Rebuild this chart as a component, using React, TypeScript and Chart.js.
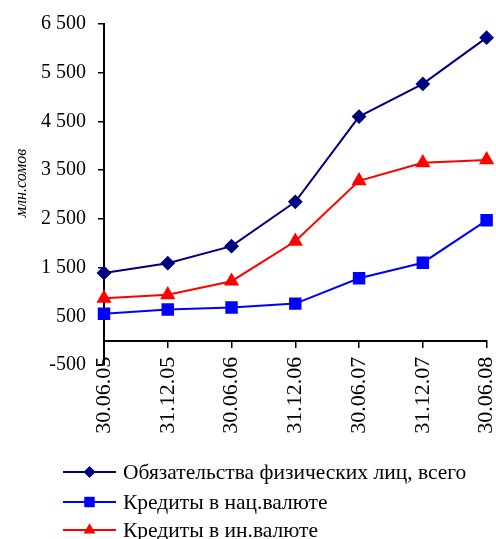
import React, { useEffect, useRef } from "react";
import { Chart, registerables } from "chart.js";

Chart.register(...registerables);

const categories = ["30.06.05", "31.12.05", "30.06.06", "31.12.06", "30.06.07", "31.12.07", "30.06.08"];
const totalLiabilities = [1390, 1590, 1940, 2850, 4600, 5270, 6220];
const nationalCurrencyLoans = [550, 640, 680, 760, 1280, 1600, 2470];
const foreignCurrencyLoans = [870, 940, 1220, 2040, 3280, 3650, 3710];
const seriesNames = [
  "Обязательства физических лиц, всего",
  "Кредиты в нац.валюте",
  "Кредиты в ин.валюте",
];
const yAxisTitle = "млн.сомов";
const yMin = -500;
const yMax = 6500;
const yStep = 1000;

const SERIF = '"Liberation Serif", "Times New Roman", serif';

function fmt(v: number): string {
  const s = String(Math.abs(v)).replace(/\B(?=(\d{3})+(?!\d))/g, " ");
  return v < 0 ? "-" + s : s;
}

const customDecor = {
  id: "customDecor",
  afterDraw(chart: any) {
    const ctx = chart.ctx;
    ctx.save();
    // y axis title
    ctx.font = `italic 16px ${SERIF}`;
    ctx.fillStyle = "#000";
    ctx.textAlign = "center";
    ctx.textBaseline = "middle";
    ctx.translate(22, 183);
    ctx.rotate(-Math.PI / 2);
    ctx.fillText(yAxisTitle, 0, 0);
    ctx.restore();

    // legend
    ctx.save();
    const rows = [472, 502, 530];
    chart.data.datasets.forEach((ds: any, i: number) => {
      const y = rows[i];
      ctx.strokeStyle = ds.borderColor;
      ctx.lineWidth = 2;
      ctx.beginPath();
      ctx.moveTo(63, y);
      ctx.lineTo(116, y);
      ctx.stroke();
      ctx.fillStyle = ds.pointBackgroundColor;
      const r = ds.pointRadius;
      const x = 89.5;
      ctx.beginPath();
      if (ds.pointStyle === "rectRot") {
        ctx.moveTo(x, y - r);
        ctx.lineTo(x + r, y);
        ctx.lineTo(x, y + r);
        ctx.lineTo(x - r, y);
      } else if (ds.pointStyle === "rect") {
        const s = r * Math.SQRT1_2;
        ctx.rect(x - s, y - s, 2 * s, 2 * s);
      } else {
        ctx.moveTo(x, y - r);
        ctx.lineTo(x + r * 0.866, y + r * 0.5);
        ctx.lineTo(x - r * 0.866, y + r * 0.5);
      }
      ctx.closePath();
      ctx.fill();
      ctx.fillStyle = "#000";
      ctx.font = `21.5px ${SERIF}`;
      ctx.textAlign = "left";
      ctx.textBaseline = "middle";
      ctx.fillText(ds.label, 123, y + 1);
    });
    ctx.restore();
  },
};

export default function App() {
  const ref = useRef<HTMLCanvasElement | null>(null);
  useEffect(() => {
    if (!ref.current) return;
    const chart = new Chart(ref.current, {
      type: "line",
      data: {
        labels: categories,
        datasets: [
          {
            label: seriesNames[0],
            data: totalLiabilities,
            borderColor: "#000080",
            backgroundColor: "#000080",
            pointBackgroundColor: "#000080",
            pointBorderColor: "#000080",
            pointStyle: "rectRot",
            pointRadius: 6,
            borderWidth: 2,
            tension: 0,
          },
          {
            label: seriesNames[1],
            data: nationalCurrencyLoans,
            borderColor: "#0000FF",
            backgroundColor: "#0000FF",
            pointBackgroundColor: "#0000FF",
            pointBorderColor: "#0000FF",
            pointStyle: "rect",
            pointRadius: 7.4,
            borderWidth: 2,
            tension: 0,
          },
          {
            label: seriesNames[2],
            data: foreignCurrencyLoans,
            borderColor: "#FF0000",
            backgroundColor: "#FF0000",
            pointBackgroundColor: "#FF0000",
            pointBorderColor: "#FF0000",
            pointStyle: "triangle",
            pointRadius: 6.8,
            borderWidth: 2,
            tension: 0,
          },
        ] as any,
      },
      options: {
        responsive: false,
        animation: false,
        devicePixelRatio: 1,
        layout: { padding: { top: 24, right: 9, bottom: 174, left: 0 } },
        plugins: {
          legend: { display: false },
          tooltip: { enabled: false },
        },
        scales: {
          x: {
            type: "category",
            position: { y: 0 } as any,
            offset: false,
            grid: { drawOnChartArea: false, drawTicks: true, tickLength: 6, color: "#000", lineWidth: 1.5 },
            border: { color: "#000", width: 2 },
            ticks: {
              minRotation: 90,
              maxRotation: 90,
              autoSkip: false,
              color: "#000",
              padding: 10,
              font: { family: SERIF, size: 22 },
            },
            afterFit: (scale: any) => {
              scale.paddingLeft = 0;
              scale.paddingRight = 0;
            },
          },
          y: {
            min: yMin,
            max: yMax,
            grid: { drawOnChartArea: false, drawTicks: true, tickLength: 6, color: "#000", lineWidth: 1.5 },
            border: { color: "#000", width: 2 },
            ticks: {
              stepSize: yStep,
              color: "#000",
              padding: 12,
              font: { family: SERIF, size: 20 },
              callback: (v: any) => fmt(Number(v)),
            },
            afterFit: (scale: any) => {
              scale.width = 104;
            },
          },
        },
      },
      plugins: [customDecor],
    });
    return () => chart.destroy();
  }, []);
  return (
    <div style={{ position: "absolute", left: 0, top: 0, width: 496, height: 539 }}>
      <canvas ref={ref} width={496} height={539} />
    </div>
  );
}
